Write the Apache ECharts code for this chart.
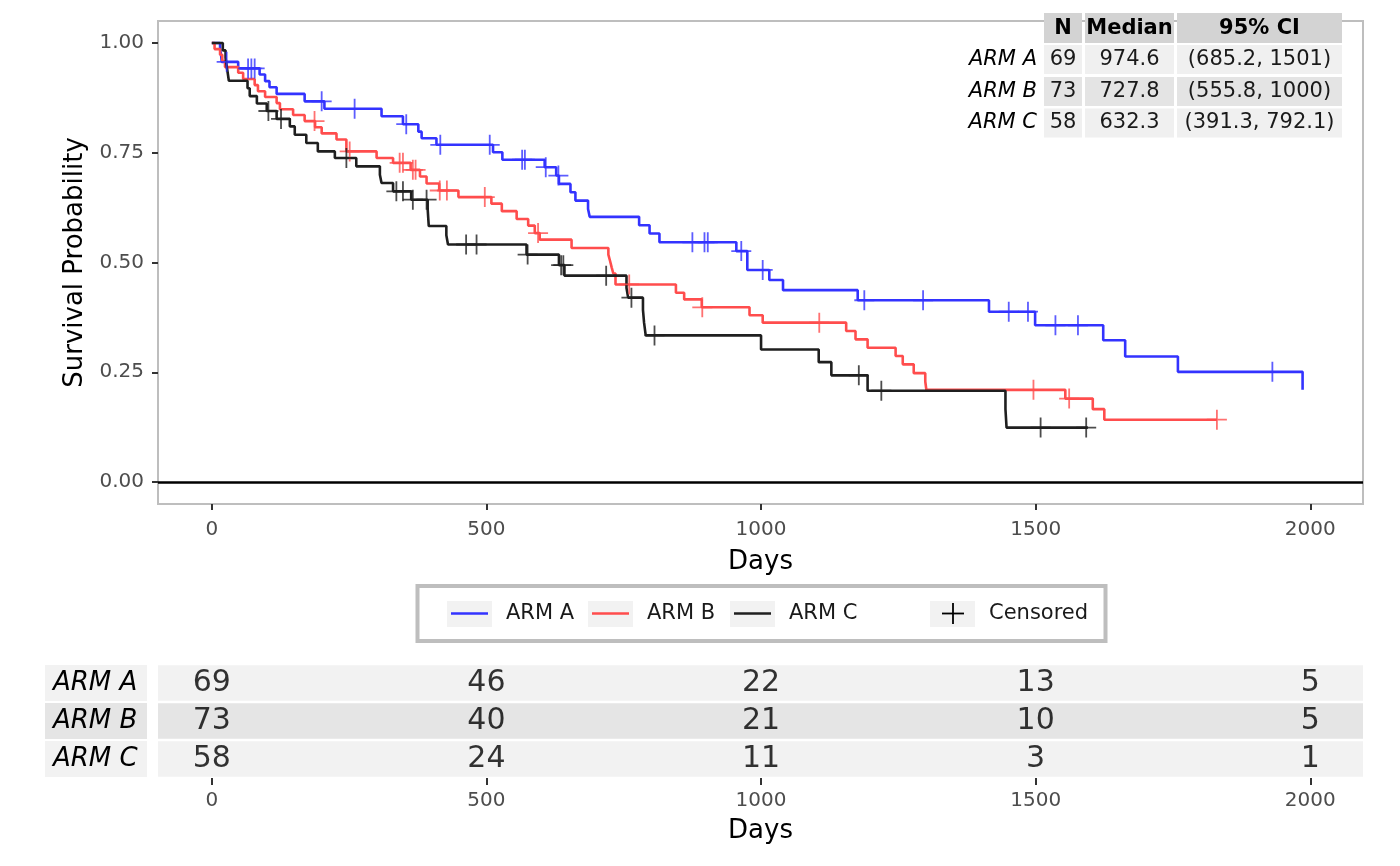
<!DOCTYPE html>
<html>
<head>
<meta charset="utf-8">
<title>Kaplan-Meier</title>
<script src="https://cdn.jsdelivr.net/npm/echarts@6/dist/echarts.min.js"></script>
<style>
  html, body { margin: 0; padding: 0; background: #fff; }
  #chart { width: 1400px; height: 866px; }
</style>
</head>
<body>
<div id="chart"></div>
<script>
//////////////////////////////////////////////////////////////////
// [ Data ]

var armNames = ['ARM A', 'ARM B', 'ARM C'];
var armColors = ['#3333ff', '#ff4d4d', '#1f1f1f'];

// step points: time (days) and survival right after that time
var armATime = [0, 15, 17, 18, 48, 87, 97, 105, 118, 169, 205, 309, 348, 376, 382, 409, 512, 529, 606, 627, 632, 653, 662, 685, 688, 778, 797, 815, 955, 975, 1015, 1040, 1176, 1415, 1499, 1623, 1663, 1759, 1986];
var armASurv = [1, .986, .971, .957, .942, .928, .913, .899, .884, .867, .85, .833, .815, .798, .783, .768, .751, .734, .717, .698, .679, .66, .641, .622, .604, .585, .566, .546, .526, .483, .46, .437, .414, .388, .357, .323, .286, .251, .21];
var armACensor = [27, 66, 72, 78, 200, 260, 354, 416, 506, 565, 570, 608, 631, 875, 897, 903, 964, 1003, 1188, 1295, 1451, 1486, 1536, 1577, 1931];

var armBTime = [0, 5, 15, 19, 24, 48, 57, 78, 84, 97, 118, 124, 148, 169, 188, 200, 227, 245, 300, 330, 362, 379, 391, 414, 449, 509, 528, 555, 576, 588, 597, 655, 722, 725, 728, 731, 735, 845, 860, 892, 979, 1003, 1155, 1172, 1194, 1245, 1258, 1278, 1299, 1301, 1554, 1604, 1625, 1830];
var armBSurv = [1, .986, .973, .959, .945, .932, .918, .904, .89, .877, .863, .849, .836, .822, .808, .794, .78, .753, .738, .727, .711, .696, .68, .664, .649, .634, .617, .599, .584, .567, .552, .533, .518, .504, .489, .475, .45, .431, .416, .398, .38, .363, .344, .325, .306, .287, .268, .248, .229, .21, .19, .166, .142, .142];
var armBCensor = [187, 251, 342, 348, 366, 371, 415, 428, 497, 594, 760, 893, 1106, 1496, 1561, 1830];

var armCTime = [0, 20, 25, 27, 29, 31, 65, 69, 82, 100, 118, 142, 151, 172, 193, 224, 263, 306, 309, 330, 363, 393, 394, 395, 427, 430, 573, 632, 642, 755, 758, 785, 787, 790, 1000, 1105, 1128, 1194, 1445, 1447, 1595];
var armCSurv = [1, .983, .966, .948, .931, .914, .897, .879, .862, .845, .827, .81, .791, .772, .753, .738, .719, .7, .681, .662, .643, .622, .602, .583, .562, .541, .518, .494, .47, .442, .42, .392, .363, .334, .302, .273, .243, .208, .166, .124, .124];
var armCCensor = [103, 126, 245, 336, 348, 366, 391, 463, 482, 575, 636, 640, 718, 764, 806, 1178, 1219, 1509, 1592];

// summary table (top right)
var tableHeader = ['N', 'Median', '95% CI'];
var tableN = ['69', '73', '58'];
var tableMedian = ['974.6', '727.8', '632.3'];
var tableCI = ['(685.2, 1501)', '(555.8, 1000)', '(391.3, 792.1)'];

// numbers at risk
var riskTimes = [0, 500, 1000, 1500, 2000];
var riskA = [69, 46, 22, 13, 5];
var riskB = [73, 40, 21, 10, 5];
var riskC = [58, 24, 11, 3, 1];

var xTicks = [0, 500, 1000, 1500, 2000];
var yTicks = [0, 0.25, 0.5, 0.75, 1];

//////////////////////////////////////////////////////////////////
// [ Helpers ]

var FONT = '"DejaVu Sans", "Noto Sans", sans-serif';
var CROSS = 'path://M18.2,0h3.6v18.2h18.2v3.6h-18.2v18.2h-3.6v-18.2h-18.2v-3.6h18.2z';
var X_MIN = -98, X_MAX = 2096;

function stepPoints(times, surv) {
    return times.map(function (t, i) { return [t, surv[i]]; });
}

// survival value of the curve at a censoring time
function censorPoints(times, surv, cens) {
    return cens.map(function (c) {
        var s = surv[0];
        for (var i = 0; i < times.length; i++) {
            if (times[i] <= c) s = surv[i];
        }
        return [c, s];
    });
}

var curves = [
    { time: armATime, surv: armASurv, cens: armACensor },
    { time: armBTime, surv: armBSurv, cens: armBCensor },
    { time: armCTime, surv: armCSurv, cens: armCCensor }
];
var riskRows = [riskA, riskB, riskC];

//////////////////////////////////////////////////////////////////
// [ Series ]

var series = [];

curves.forEach(function (c, k) {
    series.push({
        name: armNames[k],
        type: 'line',
        xAxisIndex: 0,
        yAxisIndex: 0,
        step: 'end',
        showSymbol: false,
        silent: true,
        z: 3,
        lineStyle: { color: armColors[k], width: 2.6 },
        data: stepPoints(c.time, c.surv)
    });
    series.push({
        name: armNames[k] + ' censored',
        type: 'scatter',
        xAxisIndex: 0,
        yAxisIndex: 0,
        symbol: CROSS,
        symbolSize: 20,
        silent: true,
        z: 4,
        itemStyle: { color: armColors[k] },
        data: censorPoints(c.time, c.surv, c.cens)
    });
});

// zero line
series.push({
    type: 'line',
    xAxisIndex: 0,
    yAxisIndex: 0,
    data: [],
    markLine: {
        silent: true,
        symbol: 'none',
        label: { show: false },
        lineStyle: { color: '#000', width: 2.5, type: 'solid' },
        data: [{ yAxis: 0 }]
    }
});

// risk table numbers
var riskData = [];
riskRows.forEach(function (row, r) {
    row.forEach(function (v, i) {
        riskData.push([riskTimes[i], r, v]);
    });
});

var bandColors = ['#f2f2f2', '#e5e5e5', '#f2f2f2'];
series.push({
    type: 'scatter',
    xAxisIndex: 1,
    yAxisIndex: 1,
    symbolSize: 0,
    silent: true,
    label: {
        show: true,
        position: 'inside',
        color: '#000',
        textBorderWidth: 0,
        fontSize: 30,
        fontFamily: FONT,
        formatter: function (p) { return p.value[2]; }
    },
    data: riskData,
    markArea: {
        silent: true,
        data: bandColors.map(function (col, r) {
            return [
                { xAxis: X_MIN, yAxis: r - 0.47, itemStyle: { color: col } },
                { xAxis: X_MAX, yAxis: r + 0.47 }
            ];
        })
    }
});

//////////////////////////////////////////////////////////////////
// [ Summary table + legend as graphic ]

var graphic = [];
var colBox = [[1044, 38], [1085, 89], [1177, 165]];
var rowTop = [45, 77, 108.5];
var rowH = 29;

colBox.forEach(function (cb, j) {
    graphic.push({
        type: 'rect', z: 100,
        shape: { x: cb[0], y: 13, width: cb[1], height: 30 },
        style: { fill: '#d3d3d3' }
    });
    graphic.push({
        type: 'text', z: 101,
        style: {
            text: tableHeader[j], x: cb[0] + cb[1] / 2, y: 28.5,
            align: 'center', verticalAlign: 'middle',
            font: 'bold 21px ' + FONT, fill: '#000'
        }
    });
});

var tableCols = [tableN, tableMedian, tableCI];
armNames.forEach(function (name, i) {
    graphic.push({
        type: 'text', z: 101,
        style: {
            text: name, x: 1037, y: rowTop[i] + rowH / 2,
            align: 'right', verticalAlign: 'middle',
            font: 'italic 21px ' + FONT, fill: '#000'
        }
    });
    colBox.forEach(function (cb, j) {
        graphic.push({
            type: 'rect', z: 100,
            shape: { x: cb[0], y: rowTop[i], width: cb[1], height: rowH },
            style: { fill: i === 1 ? '#e4e4e4' : '#f0f0f0' }
        });
        graphic.push({
            type: 'text', z: 101,
            style: {
                text: tableCols[j][i], x: cb[0] + cb[1] / 2, y: rowTop[i] + rowH / 2,
                align: 'center', verticalAlign: 'middle',
                font: '21px ' + FONT, fill: '#1a1a1a'
            }
        });
    });
});

// legend box
graphic.push({
    type: 'rect', z: 100,
    shape: { x: 417.5, y: 586, width: 688, height: 55 },
    style: { fill: '#fff', stroke: '#bebebe', lineWidth: 4 }
});
var legendKeys = [447, 588, 730, 930];
var legendTexts = armNames.concat(['Censored']);
legendKeys.forEach(function (kx, i) {
    graphic.push({
        type: 'rect', z: 101,
        shape: { x: kx, y: 601, width: 45, height: 26 },
        style: { fill: '#f2f2f2' }
    });
    if (i < 3) {
        graphic.push({
            type: 'line', z: 102,
            shape: { x1: kx + 4, y1: 613.5, x2: kx + 41, y2: 613.5 },
            style: { stroke: armColors[i], lineWidth: 2.6 }
        });
    } else {
        graphic.push({
            type: 'line', z: 102,
            shape: { x1: kx + 12, y1: 613.5, x2: kx + 34, y2: 613.5 },
            style: { stroke: '#000', lineWidth: 1.8 }
        });
        graphic.push({
            type: 'line', z: 102,
            shape: { x1: kx + 23, y1: 603, x2: kx + 23, y2: 624 },
            style: { stroke: '#000', lineWidth: 1.8 }
        });
    }
    graphic.push({
        type: 'text', z: 102,
        style: {
            text: legendTexts[i], x: kx + 59, y: 614,
            align: 'left', verticalAlign: 'middle',
            font: '21px ' + FONT, fill: '#1a1a1a'
        }
    });
});

//////////////////////////////////////////////////////////////////
// [ Chart ]

var axisText = { color: '#4d4d4d', fontSize: 20, fontFamily: FONT };
var nameText = { color: '#000', fontSize: 26, fontFamily: FONT };
var plain = function (v) { return String(v); };

var option = {
    animation: false,
    backgroundColor: '#fff',
    grid: [
        { left: 158, top: 21, width: 1205, height: 483, show: true, borderColor: '#bebebe', borderWidth: 2, backgroundColor: '#fff', containLabel: false },
        { left: 158, top: 664, width: 1205, height: 114, containLabel: false }
    ],
    xAxis: [
        {
            type: 'value', gridIndex: 0, min: X_MIN, max: X_MAX,
            name: 'Days', nameLocation: 'middle', nameGap: 45, nameTextStyle: nameText,
            axisLine: { show: false, onZero: false },
            splitLine: { show: false },
            axisTick: { show: true, length: 6, customValues: xTicks, lineStyle: { color: '#333', width: 2 } },
            axisLabel: Object.assign({ margin: 16, customValues: xTicks, formatter: plain }, axisText)
        },
        {
            type: 'value', gridIndex: 1, min: X_MIN, max: X_MAX,
            name: 'Days', nameLocation: 'middle', nameGap: 40, nameTextStyle: nameText,
            axisLine: { show: false, onZero: false },
            splitLine: { show: false },
            axisTick: { show: true, length: 7, customValues: xTicks, lineStyle: { color: '#333', width: 2 } },
            axisLabel: Object.assign({ margin: 13, customValues: xTicks, formatter: plain }, axisText)
        }
    ],
    yAxis: [
        {
            type: 'value', gridIndex: 0, min: -0.05, max: 1.05,
            name: 'Survival Probability', nameLocation: 'middle', nameGap: 67, nameTextStyle: nameText,
            axisLine: { show: false, onZero: false },
            splitLine: { show: false },
            axisTick: { show: true, length: 6, customValues: yTicks, lineStyle: { color: '#333', width: 2 } },
            axisLabel: Object.assign({
                margin: 14, customValues: yTicks,
                formatter: function (v) { return v.toFixed(2); }
            }, axisText)
        },
        {
            type: 'value', gridIndex: 1, min: -0.5, max: 2.5, inverse: true,
            axisLine: { show: false, onZero: false },
            axisTick: { show: false },
            splitLine: { show: false },
            axisLabel: {
                margin: 11,
                customValues: [0, 1, 2],
                formatter: function (v) { return '{r' + v + '|' + armNames[v] + '}'; },
                rich: [0, 1, 2].reduce(function (acc, r) {
                    acc['r' + r] = {
                        backgroundColor: bandColors[r],
                        width: 94, height: 36, lineHeight: 36,
                        padding: [0, 0, 0, 8],
                        align: 'left',
                        fontStyle: 'italic', fontSize: 26, fontFamily: FONT, color: '#000'
                    };
                    return acc;
                }, {})
            }
        }
    ],
    series: series,
    graphic: graphic
};

var chart = echarts.init(document.getElementById('chart'));
chart.setOption(option);
</script>
</body>
</html>
